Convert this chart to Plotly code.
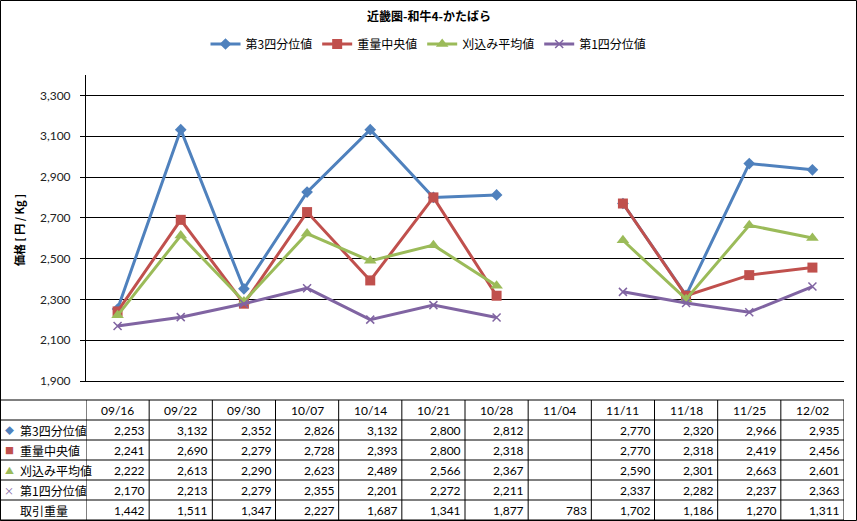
import plotly.graph_objects as go

W, H = 857, 521

title = "近畿圏-和牛4-かたばら"
y_title = "価格 [ 円 / Kg ]"
categories = ["09/16", "09/22", "09/30", "10/07", "10/14", "10/21", "10/28",
              "11/04", "11/11", "11/18", "11/25", "12/02"]
series_names = ["第3四分位値", "重量中央値", "刈込み平均値", "第1四分位値"]
q3 = [2253, 3132, 2352, 2826, 3132, 2800, 2812, None, 2770, 2320, 2966, 2935]
median_w = [2241, 2690, 2279, 2728, 2393, 2800, 2318, None, 2770, 2318, 2419, 2456]
trim_mean = [2222, 2613, 2290, 2623, 2489, 2566, 2367, None, 2590, 2301, 2663, 2601]
q1 = [2170, 2213, 2279, 2355, 2201, 2272, 2211, None, 2337, 2282, 2237, 2363]
volume_label = "取引重量"
volume = [1442, 1511, 1347, 2227, 1687, 1341, 1877, 783, 1702, 1186, 1270, 1311]

colors = ["#4F81BD", "#C0504D", "#9BBB59", "#8064A2"]
symbols = ["diamond", "square", "triangle-up", "x-thin"]
msizes = [9, 10, 11, 8]
glyphs = ["◆", "■", "▲", "×"]

JP = "Noto Sans CJK JP, sans-serif"
NUM = "Lato, Noto Sans CJK JP, sans-serif"

def px_x(x):
    return x / W

def px_y(y):
    return 1 - y / H

fig = go.Figure()
all_series = [q3, median_w, trim_mean, q1]
for name, vals, c, s, ms in zip(series_names, all_series, colors, symbols, msizes):
    marker = dict(symbol=s, size=ms, color=c)
    if s == "x-thin":
        marker["line"] = dict(width=1.5, color=c)
    fig.add_trace(go.Scatter(
        x=categories, y=vals, name=name, mode="lines+markers",
        line=dict(color=c, width=3), marker=marker, connectgaps=False,
    ))

plot_left, plot_right = 86, 844
plot_top, plot_bottom = 75, 381

fig.update_layout(
    width=W, height=H, autosize=False,
    margin=dict(l=0, r=0, t=0, b=0, autoexpand=False),
    paper_bgcolor="white", plot_bgcolor="white",
    showlegend=True,
    legend=dict(orientation="h", x=0.5, xanchor="center", y=px_y(44), yanchor="middle",
                font=dict(family=JP, size=12, color="#000"), itemwidth=30,
                bgcolor="rgba(0,0,0,0)"),
    xaxis=dict(type="category", categoryorder="array", categoryarray=categories,
               range=[-0.5, len(categories) - 0.5],
               domain=[px_x(plot_left), px_x(plot_right)], automargin=False,
               showticklabels=False, showgrid=False, zeroline=False,
               showline=True, linecolor="black", linewidth=1, ticks=""),
    yaxis=dict(range=[1900, 3400], tick0=1900, dtick=200, tickformat=",d",
               domain=[px_y(plot_bottom), px_y(plot_top)], automargin=False,
               showgrid=True, gridcolor="black", gridwidth=1, zeroline=False,
               showline=True, linecolor="black", linewidth=1,
               ticks="outside", ticklen=5, tickcolor="black", ticklabelstandoff=7,
               tickfont=dict(family=NUM, size=12, color="#222")),
)

annotations = []
shapes = []

# title
annotations.append(dict(text="<b>" + title + "</b>", xref="paper", yref="paper",
                        x=0.5, y=px_y(16), xanchor="center", yanchor="middle",
                        showarrow=False, font=dict(family=JP, size=12, color="#000")))
# y axis title
annotations.append(dict(text="<b>" + y_title + "</b>", xref="paper", yref="paper",
                        x=px_x(19), y=px_y(230), xanchor="center", yanchor="middle",
                        textangle=-90, showarrow=False,
                        font=dict(family=JP, size=11, color="#000")))

# table grid
row_h = 20
tbl_top = 400
n_rows = 6
for r in range(n_rows + 1):
    y = tbl_top + r * row_h
    shapes.append(dict(type="line", xref="paper", yref="paper",
                       x0=0, x1=px_x(plot_right), y0=px_y(y), y1=px_y(y),
                       line=dict(color="black", width=1)))
for k in range(len(categories) + 1):
    shapes.append(dict(type="line", xref="x", yref="paper",
                       x0=k - 0.5, x1=k - 0.5, y0=px_y(tbl_top), y1=px_y(tbl_top + n_rows * row_h),
                       line=dict(color="black", width=1)))
# outer border
shapes.append(dict(type="rect", xref="paper", yref="paper", x0=px_x(0.5), x1=px_x(856.5),
                   y0=px_y(520.5), y1=px_y(0.5), line=dict(color="black", width=1)))

# header
for i, c in enumerate(categories):
    annotations.append(dict(text=c, xref="x", yref="paper", x=i, y=px_y(tbl_top + 10),
                            xanchor="center", yanchor="middle", showarrow=False,
                            font=dict(family=NUM, size=12, color="#000")))

rows = all_series + [volume]
row_labels = series_names + [volume_label]
for r, (lab, vals) in enumerate(zip(row_labels, rows)):
    yc = px_y(tbl_top + row_h * (r + 1) + 10)
    if r < 4:
        annotations.append(dict(text=glyphs[r], xref="paper", yref="paper", x=px_x(9), y=yc,
                                xanchor="center", yanchor="middle", showarrow=False,
                                font=dict(family=JP, size=9 if r < 3 else 10, color=colors[r])))
    annotations.append(dict(text=lab, xref="paper", yref="paper", x=px_x(18), y=yc,
                            xanchor="left", yanchor="middle", showarrow=False,
                            font=dict(family=JP, size=12, color="#000")))
    for i, v in enumerate(vals):
        if v is None:
            continue
        annotations.append(dict(text=f"{v:,}", xref="x", yref="paper", x=i + 0.5, y=yc,
                                xanchor="right", yanchor="middle", xshift=-2, showarrow=False,
                                font=dict(family=NUM, size=12, color="#000")))

fig.update_layout(annotations=annotations, shapes=shapes)
fig.write_html("out.html", config={"displayModeBar": False},
               post_script="document.body.style.margin='0';document.body.style.overflow='hidden';")
